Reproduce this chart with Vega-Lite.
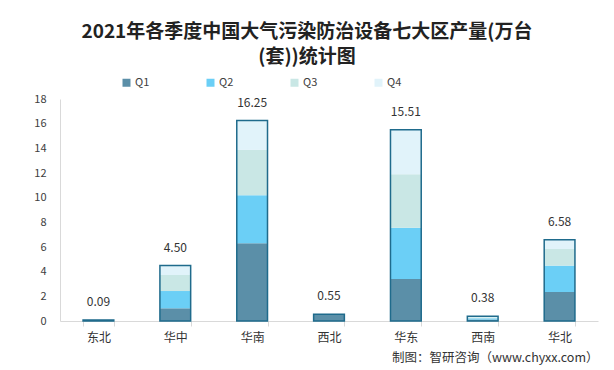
{
  "$schema": "https://vega.github.io/schema/vega-lite/v6.json",
  "width": 538,
  "height": 222,
  "autosize": "none",
  "padding": {"left": 60, "top": 99, "right": 16, "bottom": 49},
  "background": "white",
  "config": {
    "view": {"stroke": null},
    "font": "Noto Sans CJK SC",
    "axisY": {
      "title": null,
      "values": [0, 2, 4, 6, 8, 10, 12, 14, 16, 18],
      "labelOverlap": false,
      "grid": false,
      "ticks": false,
      "domainColor": "#d9d9d9",
      "labelFontSize": 11,
      "labelColor": "#404040",
      "labelPadding": 14
    }
  },
  "title": {
    "text": ["2021年各季度中国大气污染防治设备七大区产量(万台", "(套))统计图"],
    "fontSize": 19,
    "fontWeight": "bold",
    "color": "#222222",
    "lineHeight": 25,
    "anchor": "middle",
    "dx": -22,
    "offset": 10
  },
  "data": {
    "values": [
      {"region": "东北", "q": "Q1", "o": 1, "value": 0.09},
      {"region": "东北", "q": "Q2", "o": 2, "value": 0},
      {"region": "东北", "q": "Q3", "o": 3, "value": 0},
      {"region": "东北", "q": "Q4", "o": 4, "value": 0},
      {"region": "华中", "q": "Q1", "o": 1, "value": 1.03},
      {"region": "华中", "q": "Q2", "o": 2, "value": 1.40},
      {"region": "华中", "q": "Q3", "o": 3, "value": 1.30},
      {"region": "华中", "q": "Q4", "o": 4, "value": 0.77},
      {"region": "华南", "q": "Q1", "o": 1, "value": 6.30},
      {"region": "华南", "q": "Q2", "o": 2, "value": 3.90},
      {"region": "华南", "q": "Q3", "o": 3, "value": 3.67},
      {"region": "华南", "q": "Q4", "o": 4, "value": 2.38},
      {"region": "西北", "q": "Q1", "o": 1, "value": 0.55},
      {"region": "西北", "q": "Q2", "o": 2, "value": 0},
      {"region": "西北", "q": "Q3", "o": 3, "value": 0},
      {"region": "西北", "q": "Q4", "o": 4, "value": 0},
      {"region": "华东", "q": "Q1", "o": 1, "value": 3.40},
      {"region": "华东", "q": "Q2", "o": 2, "value": 4.17},
      {"region": "华东", "q": "Q3", "o": 3, "value": 4.33},
      {"region": "华东", "q": "Q4", "o": 4, "value": 3.61},
      {"region": "西南", "q": "Q1", "o": 1, "value": 0.12},
      {"region": "西南", "q": "Q2", "o": 2, "value": 0.10},
      {"region": "西南", "q": "Q3", "o": 3, "value": 0.08},
      {"region": "西南", "q": "Q4", "o": 4, "value": 0.08},
      {"region": "华北", "q": "Q1", "o": 1, "value": 2.35},
      {"region": "华北", "q": "Q2", "o": 2, "value": 2.14},
      {"region": "华北", "q": "Q3", "o": 3, "value": 1.35},
      {"region": "华北", "q": "Q4", "o": 4, "value": 0.74}
    ]
  },
  "encoding": {
    "x": {
      "field": "region",
      "type": "nominal",
      "sort": null,
      "scale": {"paddingInner": 0.6, "paddingOuter": 0.3},
      "axis": {
        "title": "制图：智研咨询（www.chyxx.com）",
        "titleAnchor": "end",
        "titleAlign": "right",
        "titleFontSize": 12.5,
        "titleFontWeight": "normal",
        "titleColor": "#333333",
        "titlePadding": 8,
        "labelAngle": 0,
        "labelFontSize": 12,
        "labelColor": "#333333",
        "labelPadding": 6,
        "domainColor": "#d9d9d9",
        "tickColor": "#d9d9d9",
        "tickBand": "extent",
        "tickSize": 5
      }
    }
  },
  "layer": [
    {
      "mark": {"type": "bar"},
      "encoding": {
        "y": {
          "field": "value",
          "type": "quantitative",
          "stack": "zero",
          "scale": {"domain": [0, 18]}
        },
        "order": {"field": "o", "type": "quantitative"},
        "color": {
          "field": "q",
          "type": "nominal",
          "scale": {
            "domain": ["Q1", "Q2", "Q3", "Q4"],
            "range": ["#5B8FA8", "#6BCFF6", "#C9E7E5", "#E1F3FA"]
          },
          "legend": {
            "title": null,
            "orient": "none",
            "direction": "horizontal",
            "legendX": 61,
            "legendY": -22,
            "symbolType": "square",
            "symbolSize": 64,
            "symbolStrokeWidth": 0,
            "labelFontSize": 11,
            "labelColor": "#404040",
            "labelOffset": 3,
            "columnPadding": 55
          }
        }
      }
    },
    {
      "mark": {"type": "bar", "fill": null, "fillOpacity": 0, "stroke": "#1F6B8C", "strokeWidth": 1.5},
      "encoding": {
        "y": {"aggregate": "sum", "field": "value", "type": "quantitative"}
      }
    },
    {
      "mark": {"type": "text", "baseline": "bottom", "dy": -11, "fontSize": 12, "color": "#333333"},
      "encoding": {
        "y": {"aggregate": "sum", "field": "value", "type": "quantitative"},
        "text": {"aggregate": "sum", "field": "value", "type": "quantitative", "format": ".2f"}
      }
    }
  ]
}
